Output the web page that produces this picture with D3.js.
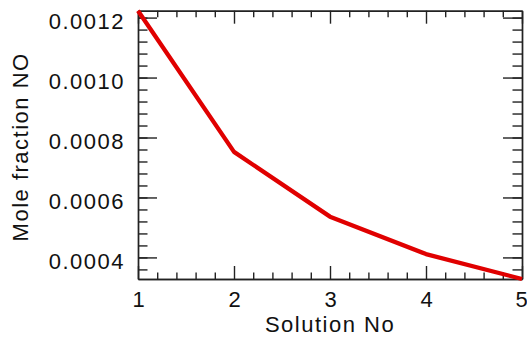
<!DOCTYPE html>
<html>
<head>
<meta charset="utf-8">
<script src="https://cdn.jsdelivr.net/npm/d3@7"></script>
<style>
  body { margin: 0; background: #fff; }
  svg text { font-family: "Liberation Sans", Arial, sans-serif; fill: #111; }
</style>
</head>
<body>
<div id="chart"></div>
<script>
// data
const solutionNo = [1, 2, 3, 4, 5];
const moleFractionNO = [0.001223, 0.000752, 0.000536, 0.000411, 0.000328];
const yTickValues = [0.0004, 0.0006, 0.0008, 0.0010, 0.0012];
const yTickLabels = ['0.0004', '0.0006', '0.0008', '0.0010', '0.0012'];
const xTickLabels = ['1', '2', '3', '4', '5'];

const width = 527, height = 341;
const margin = [10.7, 62, 138, 5]; // top, bottom, left, right

const svg = d3.select('#chart').append('svg')
    .attr('width', width).attr('height', height);

const chartWidth = width - margin[2] - margin[3],
    chartHeight = height - margin[0] - margin[1];

const scaleX = d3.scaleLinear(d3.extent(solutionNo), [0, chartWidth]);
const scaleY = d3.scaleLinear(d3.extent(moleFractionNO), [chartHeight, 0]);

const chart = svg.append('g')
    .attr('transform', `translate(${margin[2]},${margin[0]})`);

// minor tick positions (5 subdivisions per major step)
const xMinor = d3.range(1, 5.0001, 0.2).filter(v => Math.abs(v - Math.round(v)) > 1e-6);
const yMinor = d3.range(0.00032, 0.00124, 0.00004)
    .filter(v => v >= scaleY.domain()[0] && v <= scaleY.domain()[1]);

const lenX = 13, lenY = 19;

function styleAxis(g){
    g.selectAll('path, line').attr('stroke', '#222').attr('stroke-width', 1.4);
    g.selectAll('text')
        .style('font-size', '22px')
        .style('letter-spacing', '1.5px');
}

// bottom
chart.append('g').attr('transform', `translate(0,${chartHeight})`)
    .call(d3.axisBottom(scaleX).tickValues(solutionNo)
        .tickFormat((d, i) => xTickLabels[i])
        .tickSizeInner(-lenX).tickSizeOuter(0).tickPadding(12))
    .call(styleAxis)
    .call(g => g.selectAll('text').style('letter-spacing', '0px'))
    .call(g => g.selectAll('text').filter((d, i) => i === 4).attr('dx', '-1'));
chart.append('g').attr('transform', `translate(0,${chartHeight})`)
    .call(d3.axisBottom(scaleX).tickValues(xMinor).tickFormat('')
        .tickSizeInner(-lenX / 2).tickSizeOuter(0))
    .call(styleAxis);

// top
chart.append('g')
    .call(d3.axisTop(scaleX).tickValues(solutionNo).tickFormat('')
        .tickSizeInner(-lenX).tickSizeOuter(0))
    .call(styleAxis);
chart.append('g')
    .call(d3.axisTop(scaleX).tickValues(xMinor).tickFormat('')
        .tickSizeInner(-lenX / 2).tickSizeOuter(0))
    .call(styleAxis);

// left
chart.append('g')
    .call(d3.axisLeft(scaleY).tickValues(yTickValues)
        .tickFormat((d, i) => yTickLabels[i])
        .tickSizeInner(-lenY).tickSizeOuter(0).tickPadding(13))
    .call(styleAxis)
    .call(g => g.selectAll('text').attr('dy', '0.5em'));
chart.append('g')
    .call(d3.axisLeft(scaleY).tickValues(yMinor).tickFormat('')
        .tickSizeInner(-lenY / 2).tickSizeOuter(0))
    .call(styleAxis);

// right
chart.append('g').attr('transform', `translate(${chartWidth},0)`)
    .call(d3.axisRight(scaleY).tickValues(yTickValues).tickFormat('')
        .tickSizeInner(-lenY).tickSizeOuter(0))
    .call(styleAxis);
chart.append('g').attr('transform', `translate(${chartWidth},0)`)
    .call(d3.axisRight(scaleY).tickValues(yMinor).tickFormat('')
        .tickSizeInner(-lenY / 2).tickSizeOuter(0))
    .call(styleAxis);

// the line
const line = d3.line()
    .x((d, i) => scaleX(solutionNo[i]))
    .y(d => scaleY(d));
chart.append('path')
    .datum(moleFractionNO)
    .attr('fill', 'none')
    .attr('stroke', '#e00000')
    .attr('stroke-width', 4.3)
    .attr('stroke-linejoin', 'round')
    .attr('d', line);

// axis titles
svg.append('text')
    .attr('transform', `translate(${margin[2] + chartWidth / 2},${height - 9})`)
    .style('text-anchor', 'middle')
    .style('font-size', '22px')
    .style('letter-spacing', '1.5px')
    .text('Solution No');
svg.append('text')
    .attr('transform', `translate(28,${margin[0] + chartHeight / 2 + 2})rotate(-90)`)
    .style('text-anchor', 'middle')
    .style('font-size', '22px')
    .style('letter-spacing', '1.5px')
    .text('Mole fraction NO');
</script>
</body>
</html>
